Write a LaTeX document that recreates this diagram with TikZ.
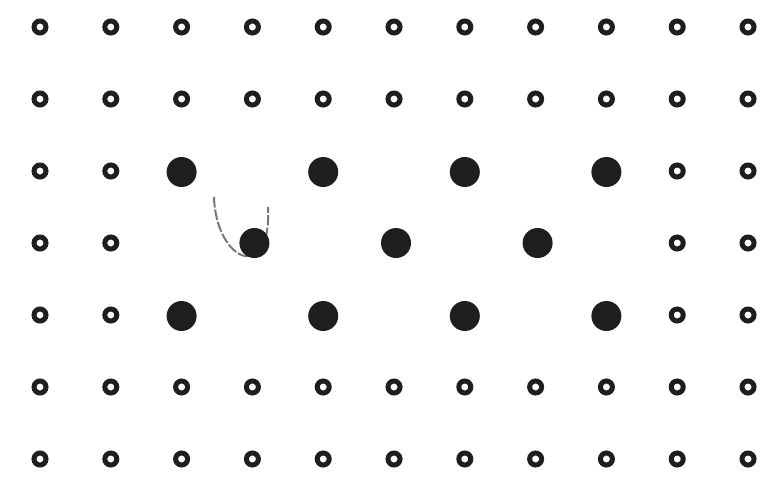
\documentclass[tikz,border=0pt]{standalone}
\usepackage{xcolor}
\usepackage{tikz}
\usetikzlibrary{positioning, calc}
\definecolor{inkdark}{RGB}{30,30,30}
\definecolor{trackgray}{RGB}{120,120,120}
\tikzset{
  site/.style={circle, draw=inkdark, fill=white, line width=0.1cm,
    minimum size=0.24cm, inner sep=0pt},
  atom/.style={circle, fill=inkdark, minimum size=0.6cm, inner sep=0pt},
  track/.style={color=trackgray, line width=0.04cm, dash pattern=on 6pt off 1.2pt}
}

\begin{document}
\begin{tikzpicture}[x=0.02cm, y=-0.02cm]
  \useasboundingbox (0,0) rectangle (763,477);

  % lattice of empty sites
  \foreach \r in {1,2,6,7}
    \foreach \c in {1,...,11}
      \node[site] (s-\c-\r) at ({40+70.8*(\c-1)},{27+72*(\r-1)}) {};
  \foreach \r in {3,4,5}
    \foreach \c in {1,2,10,11}
      \node[site] (s-\c-\r) at ({40+70.8*(\c-1)},{27+72*(\r-1)}) {};

  % path round the moving atom
  \coordinate (trackstart) at (214,197);
  \coordinate (trackend) at (268,207);
  \draw[track] (trackstart) .. controls (216,262) and (272,285) .. (trackend);

  % occupied sites
  \foreach \r in {3,5}
    \foreach \c in {3,5,7,9}
      \node[atom] (a-\c-\r) at ({40+70.8*(\c-1)},{27+72*(\r-1)+1}) {};
  \foreach \c in {4,6,8}
    \node[atom] (a-\c-4) at ({40+70.8*(\c-1)+2},{27+72*3}) {};
\end{tikzpicture}
\end{document}
